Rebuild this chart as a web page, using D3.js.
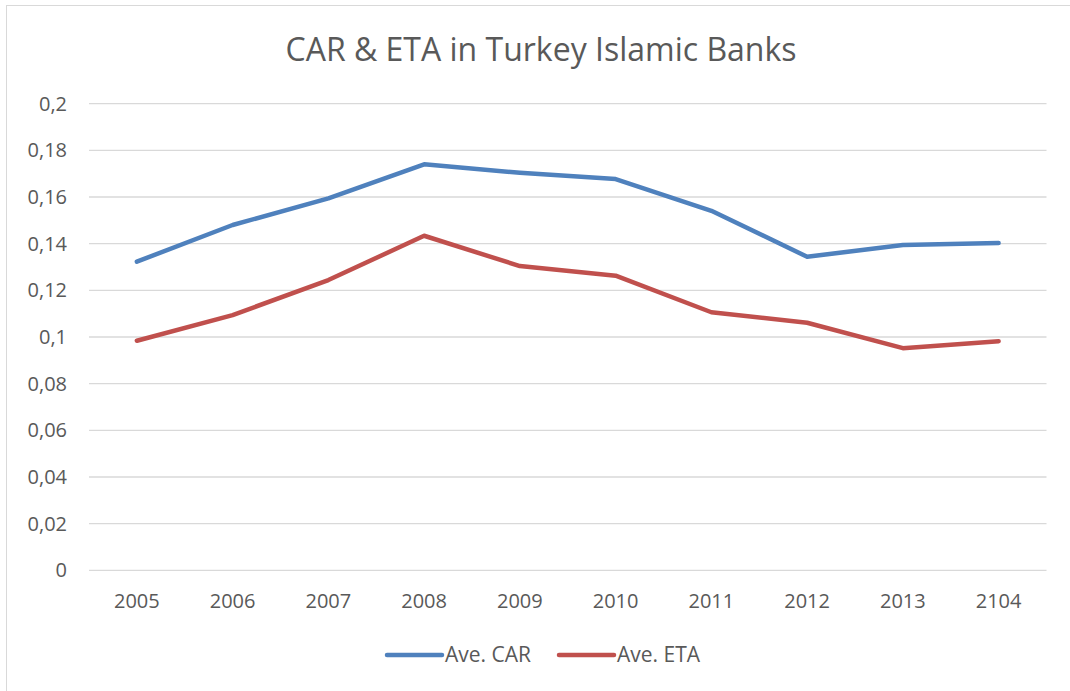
<!DOCTYPE html>
<html><head><meta charset="utf-8">
<script src="https://cdn.jsdelivr.net/npm/d3@7"></script>
<style>body{margin:0;background:#fff}svg{display:block}text{font-family:"Open Sans",sans-serif;fill:#595959}</style>
</head><body><svg id="c" width="1070" height="691"></svg>
<script>
const categories = ["2005","2006","2007","2008","2009","2010","2011","2012","2013","2104"];
const carValues = [0.1323,0.1480,0.1594,0.1740,0.1704,0.1677,0.1541,0.1344,0.1394,0.1403];
const etaValues = [0.0984,0.1094,0.1244,0.1434,0.1304,0.1263,0.1106,0.1061,0.0952,0.0982];
const seriesNames = ["Ave. CAR","Ave. ETA"];
const yTicks = [0,0.02,0.04,0.06,0.08,0.1,0.12,0.14,0.16,0.18,0.2];
const title = "CAR & ETA in Turkey Islamic Banks";

const colors = ["#4F81BD","#C0504D"];
const svg = d3.select("#c");
const loc = d3.formatLocale({decimal:",",thousands:".",grouping:[3],currency:["",""]});
const fmt = v => loc.format("~g")(v);

svg.append("rect").attr("x",6.5).attr("y",5.5).attr("width",1100).attr("height",720)
  .attr("fill","#fff").attr("stroke","#d9d9d9").attr("stroke-width",1);

const x = d3.scaleBand().domain(categories).range([89,1046.5]);
const y = d3.scaleLinear().domain([0,0.2]).range([570.3,103.7]);

svg.append("text").attr("x",541).attr("y",61).attr("text-anchor","middle")
  .style("font-size","32px").text(title);

const grid = svg.append("g");
grid.selectAll("line").data(yTicks).join("line")
  .attr("x1",x.range()[0]).attr("x2",x.range()[1])
  .attr("y1",d=>y(d)).attr("y2",d=>y(d))
  .attr("stroke","#d9d9d9").attr("stroke-width",1.3);

const yAxis = svg.append("g").attr("transform","translate(89,0)")
  .call(d3.axisLeft(y).tickValues(yTicks).tickFormat(fmt).tickSize(0).tickPadding(22));
yAxis.select(".domain").remove();
yAxis.selectAll("text").style("font-size","20px").style("font-family","'Open Sans',sans-serif").attr("fill","#595959");

const xAxis = svg.append("g").attr("transform","translate(0,570.3)")
  .call(d3.axisBottom(x).tickSize(0).tickPadding(24));
xAxis.select(".domain").remove();
xAxis.selectAll("text").style("font-size","20px").style("font-family","'Open Sans',sans-serif").attr("fill","#595959");

const line = d3.line().x((d,i)=>x(categories[i])+x.bandwidth()/2).y(d=>y(d));
[carValues,etaValues].forEach((s,i)=>{
  svg.append("path").datum(s).attr("d",line).attr("fill","none")
    .attr("stroke",colors[i]).attr("stroke-width",4.5)
    .attr("stroke-linejoin","round").attr("stroke-linecap","round");
});

const legX = [387,559];
seriesNames.forEach((n,i)=>{
  svg.append("line").attr("x1",legX[i]).attr("x2",legX[i]+55).attr("y1",655).attr("y2",655)
    .attr("stroke",colors[i]).attr("stroke-width",4.5).attr("stroke-linecap","round");
  svg.append("text").attr("x",legX[i]+58).attr("y",662).style("font-size","21px").text(n);
});
</script></body></html>
